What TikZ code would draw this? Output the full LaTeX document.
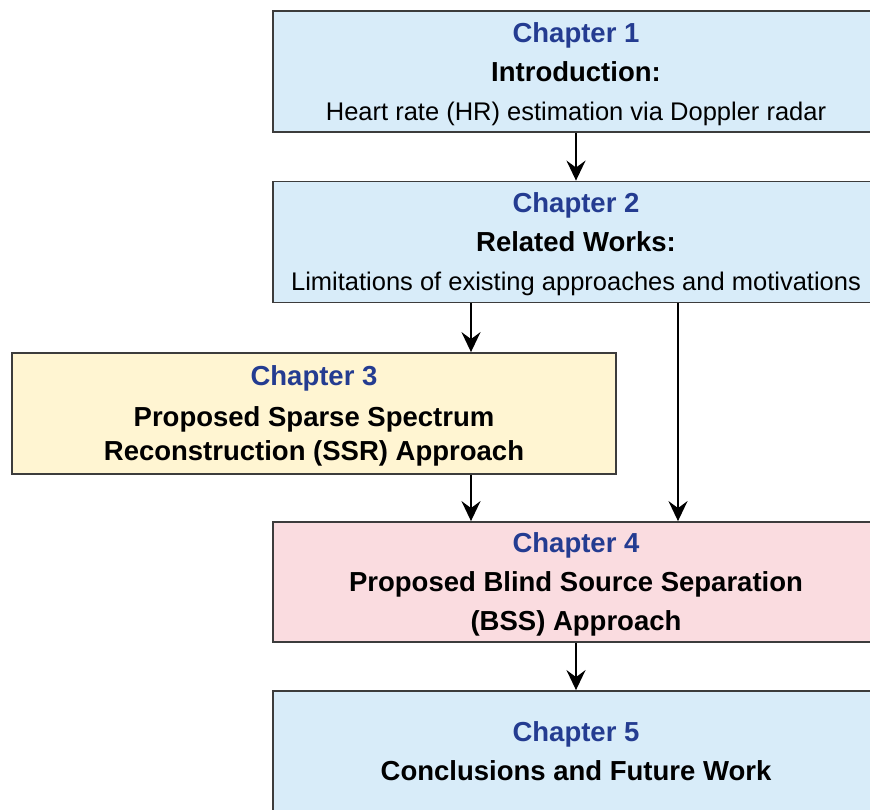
\documentclass[tikz,border=0pt]{standalone}
\usepackage{fontspec}
\setmainfont{Liberation Sans}
\usetikzlibrary{arrows.meta}
\definecolor{chapblue}{RGB}{36,60,145}
\definecolor{boxblue}{RGB}{216,236,249}
\definecolor{boxyellow}{RGB}{255,245,210}
\definecolor{boxpink}{RGB}{250,220,224}
\definecolor{boxline}{RGB}{60,60,60}
\newcommand{\chap}[1]{\textcolor{chapblue}{\bfseries Chapter #1}}
\newcommand{\desc}{\fontsize{25.5}{39}\selectfont\mdseries}
\begin{document}
\begin{tikzpicture}[x=1pt,y=-1pt,chapter/.style={shape=rectangle,draw=boxline,line width=1.8pt,align=center,minimum width=606pt,minimum height=121pt,inner sep=0pt,text depth=-4pt,font=\fontsize{27.5}{39}\selectfont\bfseries},chapB/.style={chapter,fill=boxblue},chapY/.style={chapter,fill=boxyellow,minimum width=604pt},chapP/.style={chapter,fill=boxpink,minimum height=120pt},link/.style={line width=2.4pt,-{Stealth[length=20pt,width=19pt,inset=7pt]}}]
\def\xm{576};
\def\dxa{105};
\def\dxb{102};

\useasboundingbox (0,0) rectangle (870,809);
\clip (0,0) rectangle (870,809);

\node[chapB] (ch1) at (\xm,71.5) {\chap{1}\\Introduction:\\\desc Heart rate (HR) estimation via Doppler radar};
\node[chapB] (ch2) at (\xm,242) {\chap{2}\\Related Works:\\\desc Limitations of existing approaches and motivations};
\draw[link] (ch1) -- (ch2);

\node[chapY,font=\fontsize{27.5}{34}\selectfont\bfseries] (ch3) at (314,413.5) {\chap{3}\\[7pt]Proposed Sparse Spectrum\\Reconstruction (SSR) Approach};
\draw[link] ([xshift=-\dxa pt]ch2.south) -- ([xshift=-\dxa pt]ch2.south |- ch3.north);

\node[chapP] (ch4) at (\xm,582) {\chap{4}\\Proposed Blind Source Separation\\(BSS) Approach};
\draw[link] ([xshift=-\dxa pt]ch4.north |- ch3.south) -- ([xshift=-\dxa pt]ch4.north);
\draw[link] ([xshift=\dxb pt]ch2.south) -- ([xshift=\dxb pt]ch4.north);

\node[chapB] (ch5) at (\xm,751.5) {\chap{5}\\Conclusions and Future Work};
\draw[link] (ch4) -- (ch5);
\end{tikzpicture}
\end{document}
